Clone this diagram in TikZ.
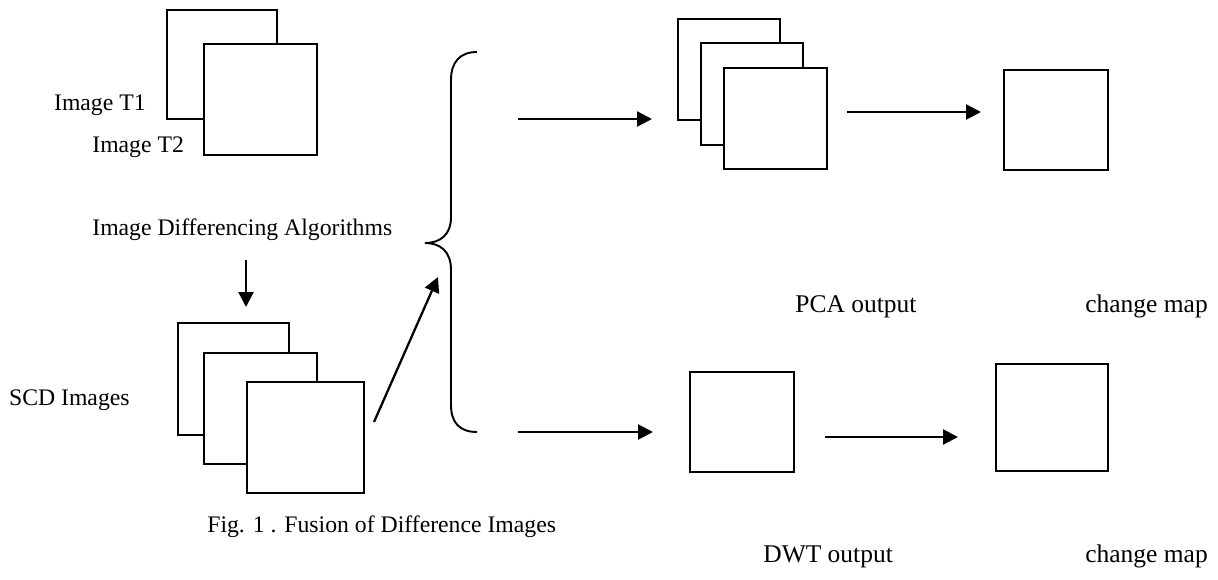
\documentclass[tikz,border=0pt]{standalone}
\usepackage{fontspec}
\setmainfont{Liberation Serif}
\usetikzlibrary{arrows.meta}

\tikzset{
    imgbox/.style 2 args={draw, fill=white, line width=1.1pt, inner sep=0pt,
        anchor=north west, minimum width=#1*0.02cm, minimum height=#2*0.02cm},
    lbl/.style={inner sep=0pt, font=\fontsize{13.5}{16}\selectfont},
    rlbl/.style={lbl, font=\fontsize{14.5}{17}\selectfont},
    flow/.style={line width=1.3pt, -{Triangle[length=0.3cm, width=0.3cm]}}
}

\begin{document}
\begin{tikzpicture}[x=0.02cm, y=-0.02cm]

        \useasboundingbox (0,0) rectangle (1218,579);

        % The two input images
        \node[imgbox={110}{109}] (T1) at (166,9) {};
        \node[imgbox={113}{111}] (T2) at (203,43) {};
        \node[lbl, anchor=base east] (labT1) at (146,110) {Image T1};
        \node[lbl, anchor=base west] (labT2) at (92,152) {Image T2};
        \node[lbl, anchor=base west] (algo) at (92,235) {Image Differencing Algorithms};

        % Stack of SCD images
        \node[imgbox={111}{112}] (S1) at (177,322) {};
        \node[imgbox={113}{111}] (S2) at (203,352) {};
        \node[imgbox={117}{111}] (S3) at (246,381) {};
        \node[lbl, anchor=base east] (scd) at (130,405) {SCD Images};
        \node[lbl, anchor=base west] (cap) at (207,532) {Fig. 1 . Fusion of Difference Images};

        % PCA branch
        \node[imgbox={102}{101}] (P1) at (677,18) {};
        \node[imgbox={102}{102}] (P2) at (700,42) {};
        \node[imgbox={103}{101}] (P3) at (723,67) {};
        \node[imgbox={104}{100}] (PC) at (1003,69) {};
        \node[rlbl, anchor=base west] (pca) at (795,312) {PCA output};
        \node[rlbl, anchor=base west] (cmapA) at (1085,312) {change map};

        % DWT branch
        \node[imgbox={104}{100}] (W1) at (689,371) {};
        \node[imgbox={112}{107}] (WC) at (995,363) {};
        \node[rlbl, anchor=base west] (dwt) at (763,562) {DWT output};
        \node[rlbl, anchor=base west] (cmapB) at (1085,562) {change map};

        % Arrow ends
        \begin{scope}
            \coordinate (D1) at (246,260);
            \coordinate (D2) at (246,307);
            \coordinate (E1) at (374,422);
            \coordinate (E2) at (438,277);
            \coordinate (F1) at (518,119);
            \coordinate (F2) at (652,119);
            \coordinate (G1) at (847,112);
            \coordinate (G2) at (981,112);
            \coordinate (H1) at (518,432);
            \coordinate (H2) at (653,432);
            \coordinate (K1) at (825,437);
            \coordinate (K2) at (958,437);
        \end{scope}

        \draw[flow] (D1) -- (D2);
        \draw[flow] (E1) -- (E2);
        \draw[flow] (F1) -- (F2);
        \draw[flow] (G1) -- (G2);
        \draw[flow] (H1) -- (H2);
        \draw[flow] (K1) -- (K2);

        % Curly brace splitting into the two branches
        \draw[line width=1.1pt] (477,52) .. controls (460,52) and (451,62) .. (451,80)
            -- (451,217) .. controls (451,235) and (440,243) .. (425,243)
            .. controls (440,243) and (451,251) .. (451,270)
            -- (451,405) .. controls (451,423) and (460,432) .. (477,432);

\end{tikzpicture}
\end{document}
